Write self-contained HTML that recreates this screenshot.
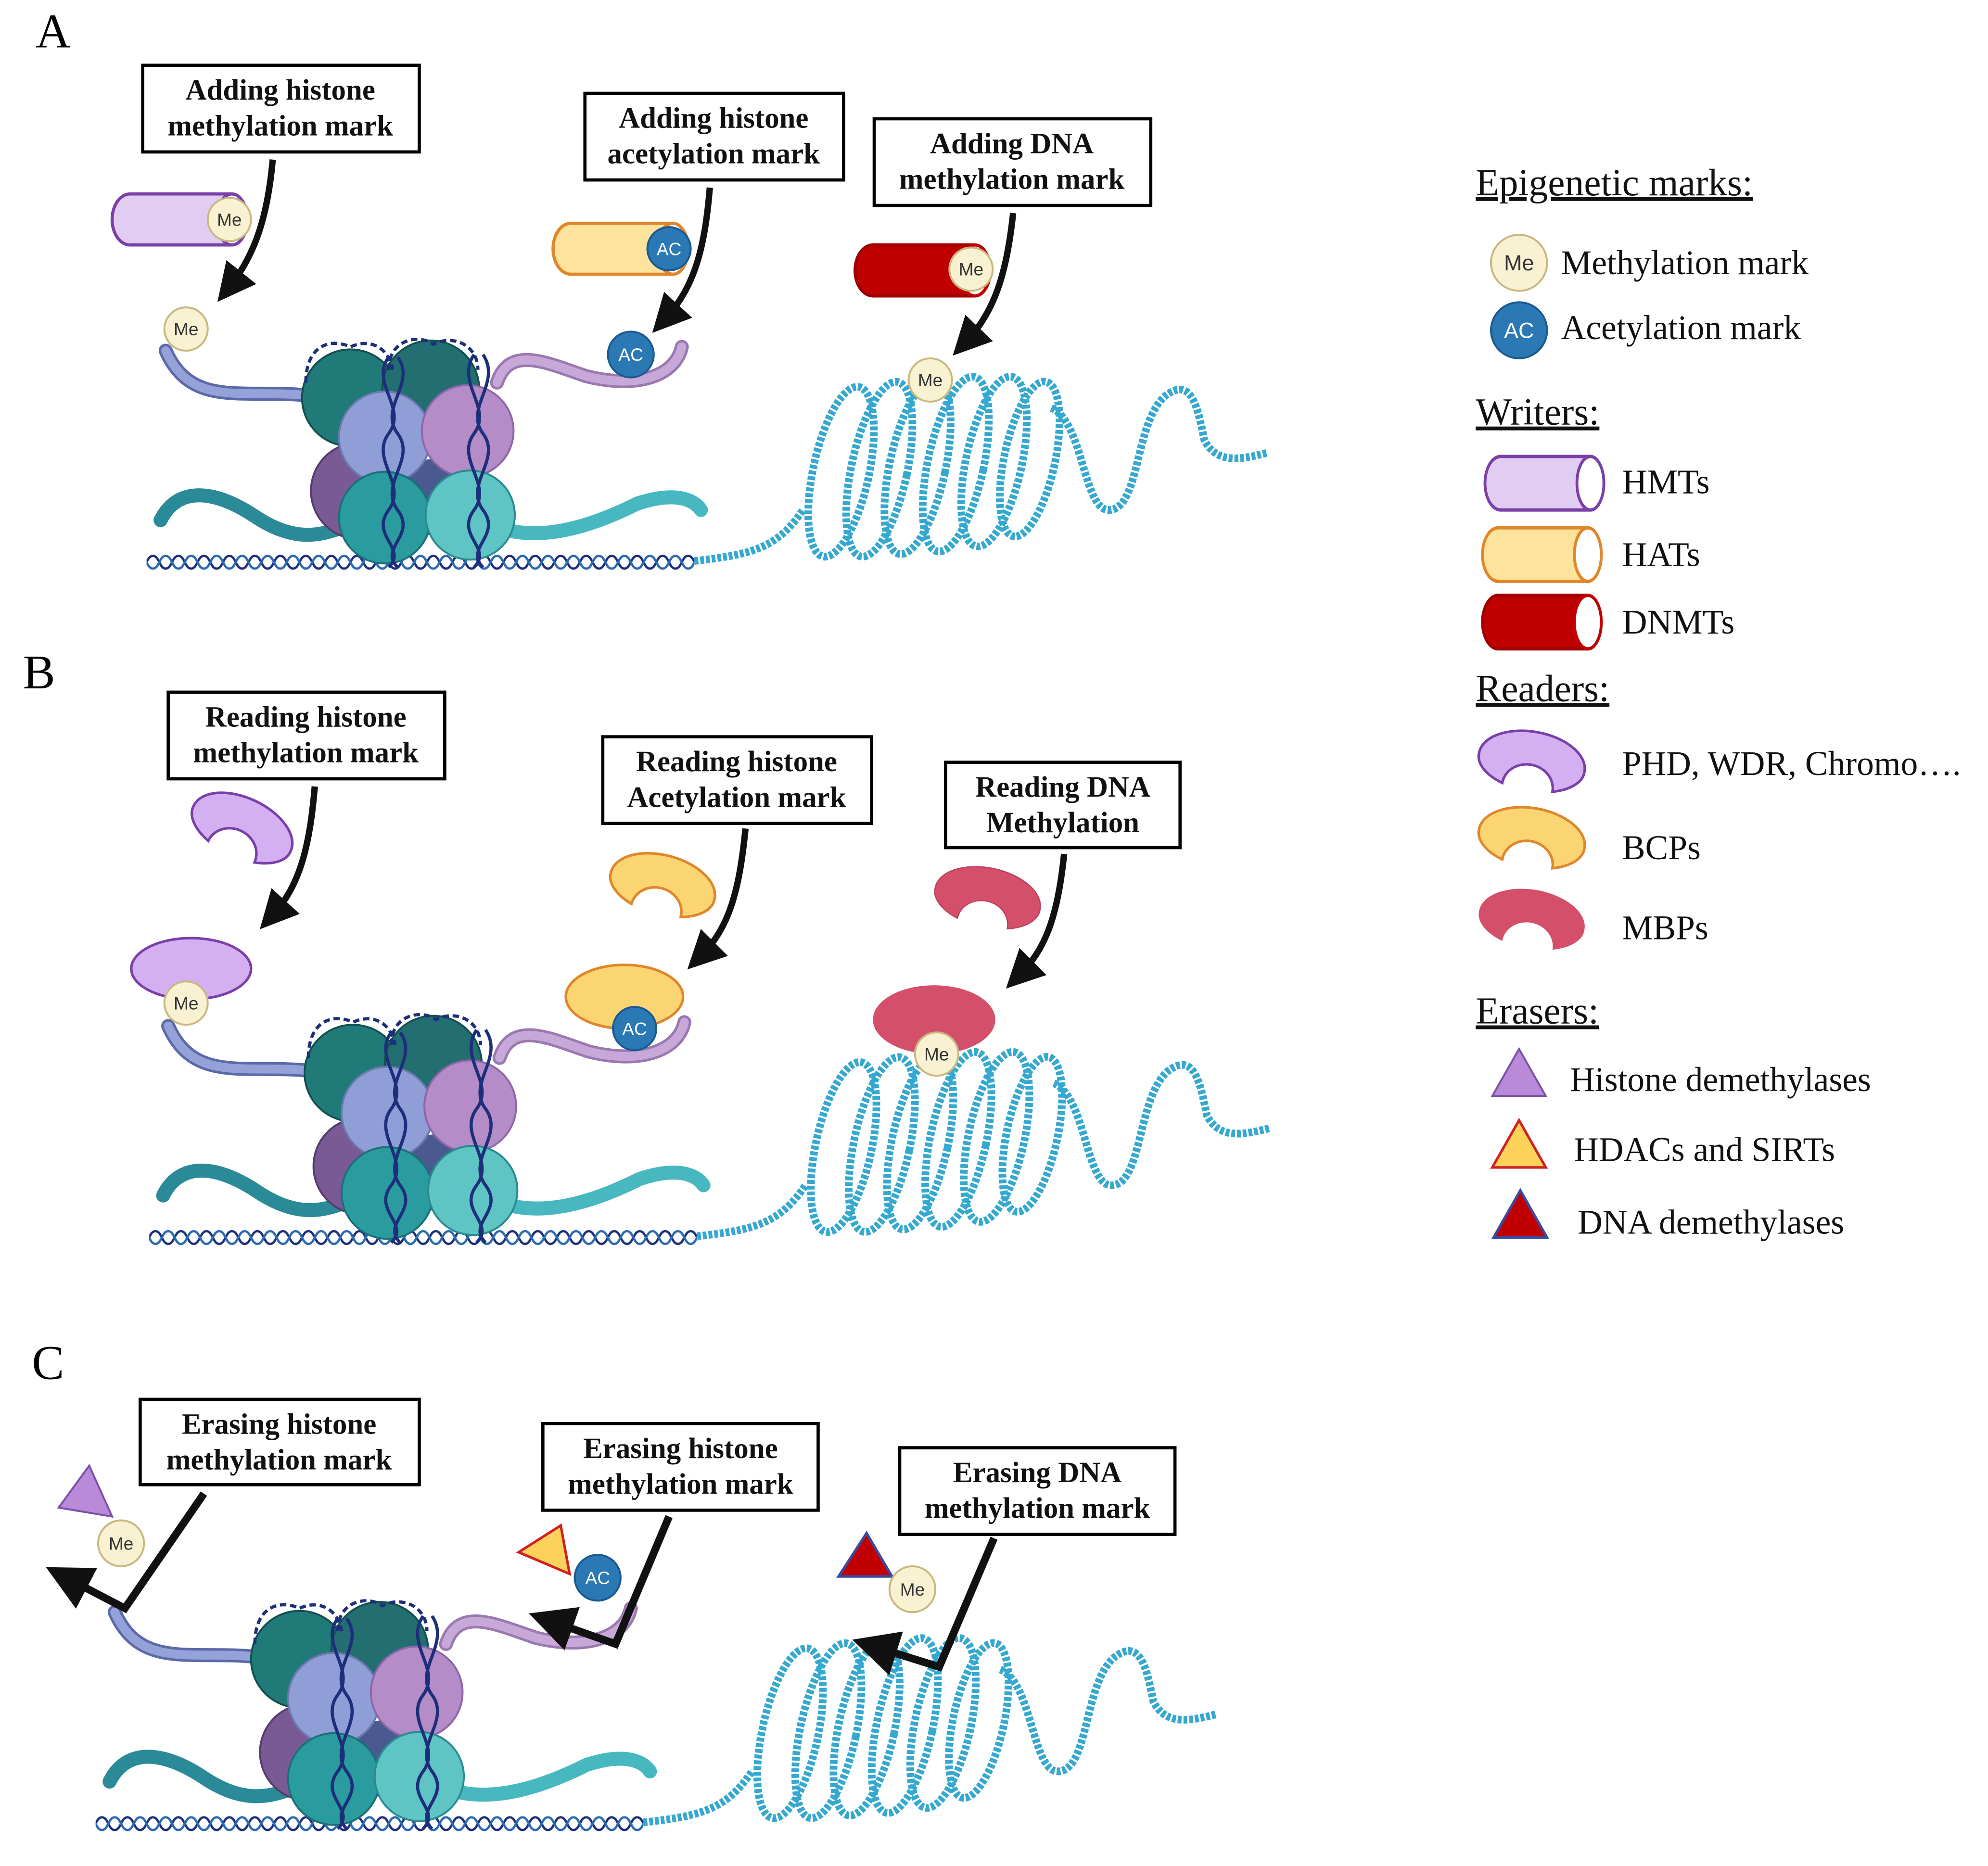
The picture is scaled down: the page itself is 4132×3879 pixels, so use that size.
<!DOCTYPE html>
<html><head><meta charset="utf-8"><style>
html,body{margin:0;padding:0;background:#fff;}
svg{display:block;}
text{font-family:"Liberation Serif",serif;}
.bx{fill:#fff;stroke:#000;stroke-width:2.5;}
.bt{font-size:23px;font-weight:bold;text-anchor:middle;fill:#111;}
.mk text{font-family:"Liberation Sans",sans-serif;font-size:14px;text-anchor:middle;}
.lg{font-size:27px;fill:#111;}
.hd{font-size:30px;fill:#111;text-decoration:underline;}
</style></head><body>
<svg width="4132" height="3879" viewBox="0 0 1560 1464" xmlns="http://www.w3.org/2000/svg">
<defs>
<pattern id="hx" width="20" height="14" patternUnits="userSpaceOnUse">
<path d="M0 2 C5 2 5 12 10 12 C15 12 15 2 20 2" fill="none" stroke="#1d2f7a" stroke-width="1.8"/>
<path d="M0 12 C5 12 5 2 10 2 C15 2 15 12 20 12" fill="none" stroke="#2a6ab0" stroke-width="1.8"/>
</pattern>
<marker id="ah" markerWidth="6" markerHeight="6" refX="3" refY="3" orient="auto" markerUnits="strokeWidth">
<path d="M0 0 L6 3 L0 6 z" fill="#111"/></marker>
<g id="scene">
<rect x="115" y="433" width="430" height="14" fill="url(#hx)"/>
<path d="M130 275 C150 320 190 305 240 310 C260 312 280 320 295 330" fill="none" stroke="#5a6aa8" stroke-width="11" stroke-linecap="round"/>
<path d="M130 275 C150 320 190 305 240 310 C260 312 280 320 295 330" fill="none" stroke="#95a2da" stroke-width="7" stroke-linecap="round"/>
<path d="M390 300 C400 270 430 285 460 295 C500 305 530 295 535 272" fill="none" stroke="#9a78b0" stroke-width="11" stroke-linecap="round"/>
<path d="M390 300 C400 270 430 285 460 295 C500 305 530 295 535 272" fill="none" stroke="#c8a8d8" stroke-width="7" stroke-linecap="round"/>
<path d="M126 408 C140 380 170 385 200 405 C230 425 250 420 265 415" fill="none" stroke="#2a8a98" stroke-width="11" stroke-linecap="round"/>
<path d="M395 415 C430 425 470 410 500 395 C530 385 545 392 550 400" fill="none" stroke="#48b8c0" stroke-width="11" stroke-linecap="round"/>
<circle cx="275" cy="312" r="38" fill="#1f7a78" stroke="#13504f" stroke-width="1.5"/>
<circle cx="338" cy="305" r="38" fill="#236e70" stroke="#13504f" stroke-width="1.5"/>
<circle cx="282" cy="385" r="38" fill="#7a5a94" stroke="#553a70" stroke-width="1.5"/>
<circle cx="340" cy="390" r="30" fill="#4a5a90"/>
<circle cx="302" cy="343" r="36" fill="#8f9ed6" stroke="#6a78b0" stroke-width="1.5"/>
<circle cx="367" cy="338" r="36" fill="#b48cc8" stroke="#8c66a8" stroke-width="1.5"/>
<circle cx="302" cy="406" r="36" fill="#2a9ca0" stroke="#1a7078" stroke-width="1.5"/>
<circle cx="369" cy="404" r="35" fill="#5fc4c4" stroke="#2a8a90" stroke-width="1.5"/>
<path d="M305 280 C290 300 320 320 305 340 C290 360 320 380 305 400 C290 420 320 430 305 445" fill="none" stroke="#1d2f7a" stroke-width="2.5"/>
<path d="M312 280 C327 300 297 320 312 340 C327 360 297 380 312 400 C327 420 297 430 312 445" fill="none" stroke="#1d2f7a" stroke-width="2.5"/>
<path d="M372 278 C357 300 387 320 372 340 C357 360 387 380 372 400 C357 420 387 430 372 445" fill="none" stroke="#1d2f7a" stroke-width="2.5"/>
<path d="M379 278 C394 300 364 320 379 340 C394 360 364 380 379 400 C394 420 364 430 379 445" fill="none" stroke="#1d2f7a" stroke-width="2.5"/>
<path d="M240 300 C240 270 260 265 275 272 C290 265 305 272 308 290" fill="none" stroke="#1d2f7a" stroke-width="2.5" stroke-dasharray="5 3"/>
<path d="M305 290 C305 265 330 262 340 270 C355 262 375 270 375 290" fill="none" stroke="#1d2f7a" stroke-width="2.5" stroke-dasharray="5 3"/>
<g fill="none" stroke="#35a8d0" stroke-width="6" stroke-dasharray="3 1.5">
<path d="M545 440 C590 435 610 430 630 400"/>
<ellipse cx="660" cy="370" rx="22" ry="68" transform="rotate(12 660 370)"/>
<ellipse cx="690" cy="368" rx="22" ry="70" transform="rotate(12 690 368)"/>
<ellipse cx="720" cy="366" rx="22" ry="70" transform="rotate(12 720 366)"/>
<ellipse cx="750" cy="364" rx="22" ry="70" transform="rotate(12 750 364)"/>
<ellipse cx="780" cy="362" rx="22" ry="68" transform="rotate(12 780 362)"/>
<ellipse cx="808" cy="360" rx="20" ry="62" transform="rotate(12 808 360)"/>
<path d="M825 320 C850 330 850 400 870 400 C895 400 890 330 915 310 C935 295 940 320 945 345 C955 365 975 360 995 355"/>
</g>
</g>
<g id="wHMT"><path d="M100 0 H20 A14 20 0 0 0 20 40 H100" fill="#e2cdf2" stroke="#7a3fa8" stroke-width="2.5"/><ellipse cx="100" cy="20" rx="12" ry="20" fill="#fff" stroke="#7a3fa8" stroke-width="2.5"/></g>
<g id="wHAT"><path d="M100 0 H20 A14 20 0 0 0 20 40 H100" fill="#fde39c" stroke="#e0862a" stroke-width="2.5"/><ellipse cx="100" cy="20" rx="12" ry="20" fill="#fff" stroke="#e0862a" stroke-width="2.5"/></g>
<g id="wDN"><path d="M100 0 H20 A14 20 0 0 0 20 40 H100" fill="#c00000" stroke="#a00000" stroke-width="2.5"/><ellipse cx="100" cy="20" rx="12" ry="20" fill="#fff" stroke="#c00000" stroke-width="2.5"/></g>
<path id="rd" d="M-42 0 A42 24 0 0 1 42 0 A42 22 0 0 1 20 20 A20 18 0 0 0 -20 20 A42 22 0 0 1 -42 0 z"/>
</defs>

<text x="28" y="37" font-size="38">A</text>
<use href="#scene"/>
<rect class="bx" x="112" y="51" width="217" height="68"/><text class="bt" x="220" y="78">Adding histone</text><text class="bt" x="220" y="106">methylation mark</text>
<rect class="bx" x="459" y="73" width="203" height="68"/><text class="bt" x="560" y="100">Adding histone</text><text class="bt" x="560" y="128">acetylation mark</text>
<rect class="bx" x="686" y="93" width="217" height="68"/><text class="bt" x="794" y="120">Adding DNA</text><text class="bt" x="794" y="148">methylation mark</text>
<use href="#wHMT" x="82" y="152"/>
<use href="#wHAT" x="428" y="175"/>
<use href="#wDN" x="665" y="192"/>
<g fill="none" stroke="#111" stroke-width="5" marker-end="url(#ah)">
<path d="M214 125 C210 170 200 200 180 225"/>
<path d="M557 147 C553 195 545 225 522 250"/>
<path d="M795 167 C790 215 780 245 758 268"/>
</g>

<text x="18" y="540" font-size="38">B</text>
<use href="#scene" transform="translate(2 530)"/>
<rect class="bx" x="132" y="543" width="217" height="68"/><text class="bt" x="240" y="570">Reading histone</text><text class="bt" x="240" y="598">methylation mark</text>
<rect class="bx" x="473" y="578" width="211" height="68"/><text class="bt" x="578" y="605">Reading histone</text><text class="bt" x="578" y="633">Acetylation mark</text>
<rect class="bx" x="742" y="598" width="184" height="67"/><text class="bt" x="834" y="625">Reading DNA</text><text class="bt" x="834" y="653">Methylation</text>
<use href="#rd" transform="translate(190 650) rotate(25)" fill="#d4b0f2" stroke="#7a3fa8" stroke-width="2"/>
<ellipse cx="150" cy="760" rx="47" ry="24" fill="#d4b0f2" stroke="#7a3fa8" stroke-width="2"/>
<use href="#rd" transform="translate(520 695) rotate(15)" fill="#fbd572" stroke="#e0862a" stroke-width="2"/>
<ellipse cx="490" cy="782" rx="46" ry="25" fill="#fbd572" stroke="#e0862a" stroke-width="2"/>
<use href="#rd" transform="translate(775 705) rotate(12)" fill="#d4506a" stroke="#c04060" stroke-width="1"/>
<ellipse cx="733" cy="800" rx="48" ry="27" fill="#d4506a"/>
<g fill="none" stroke="#111" stroke-width="5" marker-end="url(#ah)">
<path d="M247 617 C243 665 235 695 214 718"/>
<path d="M585 650 C580 700 572 728 550 750"/>
<path d="M835 670 C830 720 820 745 800 765"/>
</g>

<text x="25" y="1082" font-size="38">C</text>
<use href="#scene" transform="translate(-40 990)"/>
<rect class="bx" x="110" y="1098" width="219" height="67"/><text class="bt" x="219" y="1125">Erasing histone</text><text class="bt" x="219" y="1153">methylation mark</text>
<rect class="bx" x="426" y="1117" width="216" height="68"/><text class="bt" x="534" y="1144">Erasing histone</text><text class="bt" x="534" y="1172">methylation mark</text>
<rect class="bx" x="706" y="1136" width="216" height="68"/><text class="bt" x="814" y="1163">Erasing DNA</text><text class="bt" x="814" y="1191">methylation mark</text>
<polygon points="70,1150 46,1183 88,1190" fill="#b88ad8" stroke="#7a50a8" stroke-width="1.5"/>
<polygon points="440,1197 407,1218 447,1235" fill="#fcd25a" stroke="#d02020" stroke-width="2"/>
<polygon points="680,1203 658,1237 700,1237" fill="#c00000" stroke="#3a4aa0" stroke-width="2"/>
<g fill="none" stroke="#111" stroke-width="6" stroke-linejoin="miter" marker-end="url(#ah)">
<path d="M160 1172 L98 1262 L52 1238"/>
<path d="M525 1190 L483 1290 L432 1272"/>
<path d="M780 1207 L737 1308 L686 1292"/>
</g>

<g fill="#f9f2d2" stroke="#c8b880" stroke-width="1.5">
<circle cx="180" cy="172" r="17"/><circle cx="146" cy="258" r="17"/><circle cx="762" cy="211" r="17"/><circle cx="730" cy="298" r="17"/>
<circle cx="146" cy="787" r="17"/><circle cx="735" cy="827" r="17"/>
<circle cx="95" cy="1211" r="18"/><circle cx="716" cy="1247" r="18"/>
<circle cx="1192" cy="206" r="22"/>
</g>
<g fill="#2a78b4" stroke="#1a5a90" stroke-width="1.5">
<circle cx="525" cy="195" r="17"/><circle cx="495" cy="278" r="18"/><circle cx="498" cy="807" r="17"/><circle cx="469" cy="1238" r="18"/>
<circle cx="1192" cy="259" r="22"/>
</g>
<g class="mk" fill="#333">
<text x="180" y="177">Me</text><text x="146" y="263">Me</text><text x="762" y="216">Me</text><text x="730" y="303">Me</text>
<text x="146" y="792">Me</text><text x="735" y="832">Me</text><text x="95" y="1216">Me</text><text x="716" y="1252">Me</text>
<text x="1192" y="212" style="font-size:17px">Me</text>
</g>
<g class="mk" fill="#fff">
<text x="525" y="200">AC</text><text x="495" y="283">AC</text><text x="498" y="812">AC</text><text x="469" y="1243">AC</text>
<text x="1192" y="265" style="font-size:17px">AC</text>
</g>

<text class="hd" x="1158" y="153">Epigenetic marks:</text>
<text class="lg" x="1225" y="215">Methylation mark</text>
<text class="lg" x="1225" y="266">Acetylation mark</text>
<text class="hd" x="1158" y="333">Writers:</text>
<use href="#wHMT" transform="translate(1160 358) scale(0.88 1.05)"/><text class="lg" x="1273" y="387">HMTs</text>
<use href="#wHAT" transform="translate(1158 414) scale(0.88 1.05)"/><text class="lg" x="1273" y="444">HATs</text>
<use href="#wDN" transform="translate(1158 467) scale(0.88 1.05)"/><text class="lg" x="1273" y="497">DNMTs</text>
<text class="hd" x="1158" y="550">Readers:</text>
<use href="#rd" transform="translate(1202 598) rotate(10)" fill="#d4b0f2" stroke="#7a3fa8" stroke-width="2"/><text class="lg" x="1273" y="608">PHD, WDR, Chromo….</text>
<use href="#rd" transform="translate(1202 658) rotate(10)" fill="#fbd572" stroke="#e0862a" stroke-width="2"/><text class="lg" x="1273" y="674">BCPs</text>
<use href="#rd" transform="translate(1202 722) rotate(10)" fill="#d4506a"/><text class="lg" x="1273" y="737">MBPs</text>
<text class="hd" x="1158" y="803">Erasers:</text>
<polygon points="1192,823 1171,860 1213,860" fill="#b88ad8" stroke="#7a50a8" stroke-width="1.5"/><text class="lg" x="1232" y="856">Histone demethylases</text>
<polygon points="1192,879 1171,916 1213,916" fill="#fcd25a" stroke="#d02020" stroke-width="2"/><text class="lg" x="1235" y="911">HDACs and SIRTs</text>
<polygon points="1193,934 1172,971 1214,971" fill="#c00000" stroke="#3a4aa0" stroke-width="2"/><text class="lg" x="1238" y="968">DNA demethylases</text>
</svg>
</body></html>
